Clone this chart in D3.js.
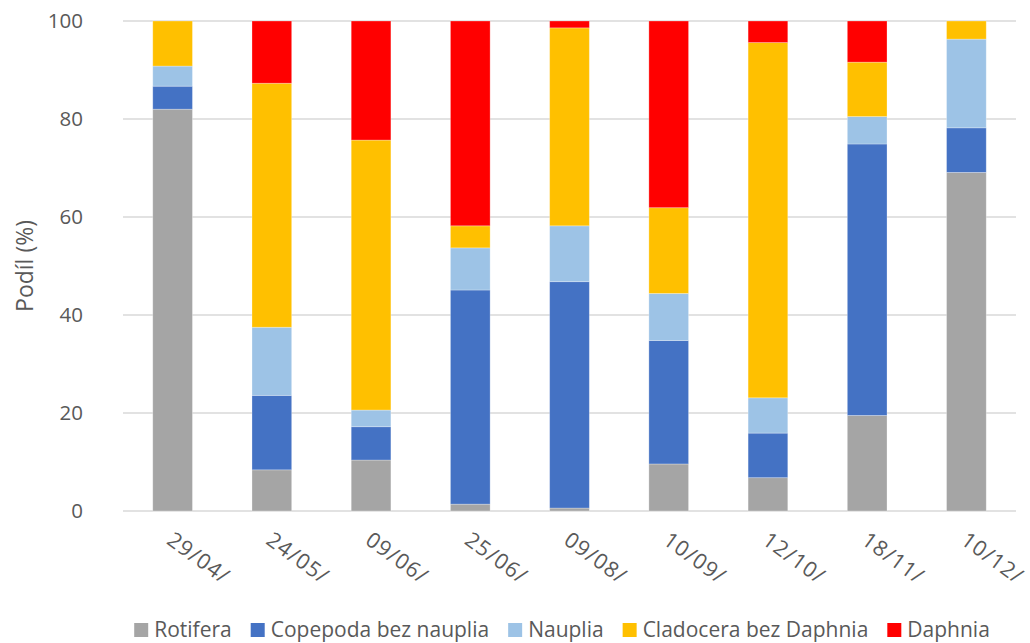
<!DOCTYPE html>
<html>
<head>
<meta charset="utf-8">
<script src="https://cdn.jsdelivr.net/npm/d3@7"></script>
<style>
  html, body { margin: 0; padding: 0; background: #fff; }
  svg { display: block; font-family: "Open Sans", "Liberation Sans", sans-serif; }
</style>
</head>
<body>
<svg id="chart" width="1030" height="643"></svg>
<script>
// Sampling dates (category labels)
const dates = ["29/04/", "24/05/", "09/06/", "25/06/", "09/08/", "10/09/", "12/10/", "18/11/", "10/12/"];

// Share of each group (%) per date
const rotifera   = [82.0,  8.4, 10.4,  1.4,  0.6,  9.6,  6.8, 19.5, 69.1];
const copepoda   = [ 4.7, 15.2,  6.8, 43.7, 46.2, 25.2,  9.1, 55.4,  9.1];
const nauplia    = [ 4.1, 13.9,  3.4,  8.6, 11.4,  9.6,  7.2,  5.6, 18.1];
const cladocera  = [ 9.2, 49.8, 55.1,  4.5, 40.4, 17.5, 72.5, 11.1,  3.7];
const daphnia    = [ 0.0, 12.7, 24.3, 41.8,  1.4, 38.1,  4.4,  8.4,  0.0];

const seriesNames  = ["Rotifera", "Copepoda bez nauplia", "Nauplia", "Cladocera bez Daphnia", "Daphnia"];
const seriesColors = ["#a5a5a5", "#4472c4", "#9dc3e6", "#ffc000", "#ff0000"];
const yTicks = [0, 20, 40, 60, 80, 100];

const table = dates.map((d, i) => ({
  date: d,
  s0: rotifera[i], s1: copepoda[i], s2: nauplia[i], s3: cladocera[i], s4: daphnia[i]
}));
const keys = ["s0", "s1", "s2", "s3", "s4"];
const stacked = d3.stack().keys(keys)(table);

const svg = d3.select("#chart");
const margin = { left: 123, right: 14, top: 21, bottom: 132 };
const W = 1030, H = 643;

const x = d3.scaleBand()
  .domain(dates)
  .range([margin.left, W - margin.right])
  .paddingInner(0.6)
  .paddingOuter(0.3);

const y = d3.scaleLinear()
  .domain([0, 100])
  .range([H - margin.bottom, margin.top]);

const textColor = "#595959";

// Horizontal gridlines
svg.append("g")
  .selectAll("line")
  .data(yTicks)
  .join("line")
  .attr("x1", margin.left)
  .attr("x2", W - margin.right)
  .attr("y1", d => y(d))
  .attr("y2", d => y(d))
  .attr("stroke", "#d9d9d9")
  .attr("stroke-width", 1.3);

// Y axis labels
const yAxis = d3.axisLeft(y).tickValues(yTicks).tickSize(0).tickPadding(0);
const yg = svg.append("g")
  .attr("transform", `translate(${margin.left - 40},0)`)
  .call(yAxis);
yg.select(".domain").remove();
yg.selectAll("text")
  .attr("fill", textColor)
  .attr("font-size", 20.5)
  .attr("font-family", "'Open Sans', sans-serif");

// Stacked bars
svg.append("g")
  .selectAll("g")
  .data(stacked)
  .join("g")
  .attr("fill", (d, i) => seriesColors[i])
  .selectAll("rect")
  .data(d => d)
  .join("rect")
  .attr("x", d => x(d.data.date))
  .attr("width", x.bandwidth())
  .attr("y", d => y(d[1]))
  .attr("height", d => Math.max(0, y(d[0]) - y(d[1])))
  .attr("stroke", "#ffffff")
  .attr("stroke-opacity", 0.35)
  .attr("stroke-width", 0.8);

// X axis labels, rotated clockwise
const xAxis = d3.axisBottom(x).tickSize(0).tickPadding(0);
const xg = svg.append("g")
  .attr("transform", `translate(0,${y(0)})`)
  .call(xAxis);
xg.select(".domain").remove();
xg.selectAll("text")
  .attr("fill", textColor)
  .attr("font-size", 21.5)
  .attr("letter-spacing", 1)
  .attr("font-family", "'Open Sans', sans-serif")
  .attr("text-anchor", "start")
  .attr("dy", 0)
  .attr("y", 0)
  .attr("transform", "translate(-7,32) rotate(36)");

// Y axis title
svg.append("text")
  .attr("transform", `translate(33,${(y(0) + y(100)) / 2}) rotate(-90)`)
  .attr("text-anchor", "middle")
  .attr("fill", textColor)
  .attr("font-size", 23)
  .text("Podíl (%)");

// Legend
const legend = svg.append("g").attr("transform", "translate(0,630)");
const items = legend.selectAll("g")
  .data(seriesNames)
  .join("g");
items.append("rect")
  .attr("width", 14)
  .attr("height", 14)
  .attr("y", -7)
  .attr("fill", (d, i) => seriesColors[i]);
items.append("text")
  .attr("x", 20)
  .attr("dy", "0.35em")
  .attr("fill", textColor)
  .attr("font-size", 21)
  .text(d => d);

const gap = 19;
const widths = [];
items.each(function () { widths.push(this.getBBox().width); });
const total = d3.sum(widths) + gap * (widths.length - 1);
let cx = 562 - total / 2;
items.attr("transform", (d, i) => {
  const t = `translate(${cx},0)`;
  cx += widths[i] + gap;
  return t;
});
</script>
</body>
</html>
